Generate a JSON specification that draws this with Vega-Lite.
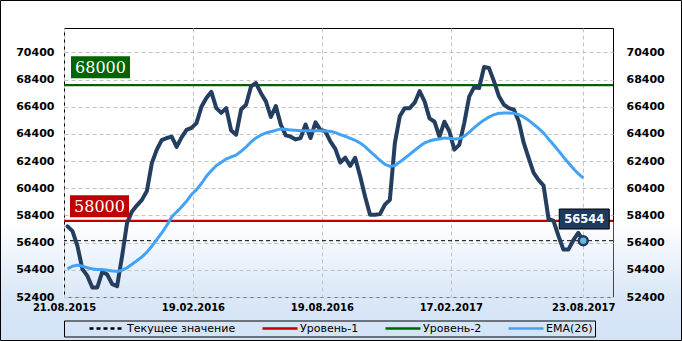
{
  "$schema": "https://vega.github.io/schema/vega-lite/v6.json",
  "width": 549,
  "height": 269,
  "autosize": "none",
  "padding": {"left": 64, "top": 28, "right": 69, "bottom": 44},
  "background": "white",
  "title": {
    "text": "Запасы нефти\u00a0 в хранилище\u00a0 Кушинг\u00a0 (США), 2 года (тыс. баррелей)",
    "anchor": "start",
    "frame": "group",
    "dx": -56,
    "offset": 9,
    "font": "DejaVu Sans Condensed, Liberation Sans Narrow, sans-serif",
    "fontSize": 13,
    "fontWeight": "bold",
    "color": "black"
  },
  "config": {
    "view": {
      "stroke": "black",
      "strokeWidth": 1,
      "fill": {
        "gradient": "linear", "x1": 0, "y1": 0, "x2": 0, "y2": 1,
        "stops": [
          {"offset": 0, "color": "#ffffff"},
          {"offset": 0.72, "color": "#ffffff"},
          {"offset": 1, "color": "#d9e7f7"}
        ]
      }
    },
    "axis": {
      "labelFont": "DejaVu Sans",
      "labelFontWeight": "bold",
      "labelColor": "black",
      "ticks": false,
      "tickSize": 0,
      "domain": false,
      "gridColor": "#c4c4c4",
      "gridDash": [4, 3],
      "gridWidth": 1,
      "labelFlush": false,
      "labelOverlap": false
    },
    "legend": {
      "orient": "none",
      "legendX": 0,
      "legendY": 292.5,
      "direction": "horizontal",
      "titleOrient": "left",
      "titlePadding": 22,
      "titleFontSize": 11,
      "strokeColor": "black",
      "padding": 2,
      "clipHeight": 12,
      "symbolType": "stroke",
      "symbolSize": 1225,
      "symbolStrokeWidth": 2.5,
      "labelFont": "DejaVu Sans",
      "labelFontSize": 11,
      "labelColor": "black",
      "columnPadding": 25,
      "labelOffset": 1
    }
  },
  "datasets": {
    "levels": [
      {"series": "Текущее значение", "value": 56544, "label": "56544", "date": "2017-08-23"},
      {"series": "Уровень-1", "value": 58000, "label": "58000"},
      {"series": "Уровень-2", "value": 68000, "label": "68000"}
    ],
    "stock": [
      {"date": "2015-08-26", "value": 57600},
      {"date": "2015-09-02", "value": 57250},
      {"date": "2015-09-09", "value": 56150},
      {"date": "2015-09-16", "value": 54450},
      {"date": "2015-09-23", "value": 53950},
      {"date": "2015-09-30", "value": 53100},
      {"date": "2015-10-07", "value": 53100},
      {"date": "2015-10-14", "value": 54250},
      {"date": "2015-10-21", "value": 54050},
      {"date": "2015-10-28", "value": 53350},
      {"date": "2015-11-04", "value": 53200},
      {"date": "2015-11-11", "value": 55400},
      {"date": "2015-11-18", "value": 57850},
      {"date": "2015-11-25", "value": 58700},
      {"date": "2015-12-02", "value": 59150},
      {"date": "2015-12-09", "value": 59550},
      {"date": "2015-12-16", "value": 60200},
      {"date": "2015-12-23", "value": 62250},
      {"date": "2015-12-30", "value": 63250},
      {"date": "2016-01-06", "value": 63950},
      {"date": "2016-01-13", "value": 64100},
      {"date": "2016-01-20", "value": 64200},
      {"date": "2016-01-27", "value": 63450},
      {"date": "2016-02-03", "value": 64150},
      {"date": "2016-02-10", "value": 64700},
      {"date": "2016-02-17", "value": 64850},
      {"date": "2016-02-24", "value": 65200},
      {"date": "2016-03-02", "value": 66400},
      {"date": "2016-03-09", "value": 67050},
      {"date": "2016-03-16", "value": 67500},
      {"date": "2016-03-23", "value": 66300},
      {"date": "2016-03-30", "value": 65950},
      {"date": "2016-04-06", "value": 66300},
      {"date": "2016-04-13", "value": 64650},
      {"date": "2016-04-20", "value": 64350},
      {"date": "2016-04-27", "value": 66200},
      {"date": "2016-05-04", "value": 66550},
      {"date": "2016-05-11", "value": 67900},
      {"date": "2016-05-18", "value": 68150},
      {"date": "2016-05-25", "value": 67400},
      {"date": "2016-06-01", "value": 66800},
      {"date": "2016-06-08", "value": 65650},
      {"date": "2016-06-15", "value": 66450},
      {"date": "2016-06-22", "value": 65100},
      {"date": "2016-06-29", "value": 64300},
      {"date": "2016-07-06", "value": 64200},
      {"date": "2016-07-13", "value": 64000},
      {"date": "2016-07-20", "value": 64100},
      {"date": "2016-07-27", "value": 65100},
      {"date": "2016-08-03", "value": 64100},
      {"date": "2016-08-10", "value": 65250},
      {"date": "2016-08-17", "value": 64700},
      {"date": "2016-08-24", "value": 64600},
      {"date": "2016-08-31", "value": 63850},
      {"date": "2016-09-07", "value": 63300},
      {"date": "2016-09-14", "value": 62300},
      {"date": "2016-09-21", "value": 62650},
      {"date": "2016-09-28", "value": 62050},
      {"date": "2016-10-05", "value": 62650},
      {"date": "2016-10-12", "value": 61300},
      {"date": "2016-10-19", "value": 59800},
      {"date": "2016-10-26", "value": 58450},
      {"date": "2016-11-02", "value": 58450},
      {"date": "2016-11-09", "value": 58500},
      {"date": "2016-11-16", "value": 59200},
      {"date": "2016-11-23", "value": 59550},
      {"date": "2016-11-30", "value": 63700},
      {"date": "2016-12-07", "value": 65700},
      {"date": "2016-12-14", "value": 66300},
      {"date": "2016-12-21", "value": 66300},
      {"date": "2016-12-28", "value": 66700},
      {"date": "2017-01-04", "value": 67550},
      {"date": "2017-01-11", "value": 66800},
      {"date": "2017-01-18", "value": 65550},
      {"date": "2017-01-25", "value": 65300},
      {"date": "2017-02-01", "value": 64200},
      {"date": "2017-02-08", "value": 65300},
      {"date": "2017-02-15", "value": 64600},
      {"date": "2017-02-22", "value": 63250},
      {"date": "2017-03-01", "value": 63600},
      {"date": "2017-03-08", "value": 65200},
      {"date": "2017-03-15", "value": 67150},
      {"date": "2017-03-22", "value": 67850},
      {"date": "2017-03-29", "value": 67780},
      {"date": "2017-04-05", "value": 69330},
      {"date": "2017-04-12", "value": 69250},
      {"date": "2017-04-19", "value": 68270},
      {"date": "2017-04-26", "value": 67170},
      {"date": "2017-05-03", "value": 66550},
      {"date": "2017-05-10", "value": 66300},
      {"date": "2017-05-17", "value": 66190},
      {"date": "2017-05-24", "value": 65330},
      {"date": "2017-05-31", "value": 63740},
      {"date": "2017-06-07", "value": 62630},
      {"date": "2017-06-14", "value": 61530},
      {"date": "2017-06-21", "value": 61000},
      {"date": "2017-06-28", "value": 60600},
      {"date": "2017-07-05", "value": 58150},
      {"date": "2017-07-12", "value": 58000},
      {"date": "2017-07-19", "value": 56900},
      {"date": "2017-07-26", "value": 55890},
      {"date": "2017-08-02", "value": 55890},
      {"date": "2017-08-09", "value": 56580},
      {"date": "2017-08-16", "value": 57120},
      {"date": "2017-08-23", "value": 56544}
    ],
    "ema": [
      {"date": "2015-08-26", "series": "EMA(26)", "value": 54470},
      {"date": "2015-09-02", "series": "EMA(26)", "value": 54670},
      {"date": "2015-09-09", "series": "EMA(26)", "value": 54740},
      {"date": "2015-09-16", "series": "EMA(26)", "value": 54670},
      {"date": "2015-09-23", "series": "EMA(26)", "value": 54550},
      {"date": "2015-09-30", "series": "EMA(26)", "value": 54470},
      {"date": "2015-10-07", "series": "EMA(26)", "value": 54420},
      {"date": "2015-10-14", "series": "EMA(26)", "value": 54420},
      {"date": "2015-10-21", "series": "EMA(26)", "value": 54370},
      {"date": "2015-10-28", "series": "EMA(26)", "value": 54320},
      {"date": "2015-11-04", "series": "EMA(26)", "value": 54280},
      {"date": "2015-11-11", "series": "EMA(26)", "value": 54370},
      {"date": "2015-11-18", "series": "EMA(26)", "value": 54550},
      {"date": "2015-11-25", "series": "EMA(26)", "value": 54810},
      {"date": "2015-12-02", "series": "EMA(26)", "value": 55080},
      {"date": "2015-12-09", "series": "EMA(26)", "value": 55350},
      {"date": "2015-12-16", "series": "EMA(26)", "value": 55700},
      {"date": "2015-12-23", "series": "EMA(26)", "value": 56140},
      {"date": "2015-12-30", "series": "EMA(26)", "value": 56630},
      {"date": "2016-01-06", "series": "EMA(26)", "value": 57120},
      {"date": "2016-01-13", "series": "EMA(26)", "value": 57660},
      {"date": "2016-01-20", "series": "EMA(26)", "value": 58290},
      {"date": "2016-01-27", "series": "EMA(26)", "value": 58660},
      {"date": "2016-02-03", "series": "EMA(26)", "value": 59030},
      {"date": "2016-02-10", "series": "EMA(26)", "value": 59450},
      {"date": "2016-02-17", "series": "EMA(26)", "value": 59940},
      {"date": "2016-02-24", "series": "EMA(26)", "value": 60300},
      {"date": "2016-03-02", "series": "EMA(26)", "value": 60750},
      {"date": "2016-03-09", "series": "EMA(26)", "value": 61280},
      {"date": "2016-03-16", "series": "EMA(26)", "value": 61700},
      {"date": "2016-03-23", "series": "EMA(26)", "value": 62070},
      {"date": "2016-03-30", "series": "EMA(26)", "value": 62310},
      {"date": "2016-04-06", "series": "EMA(26)", "value": 62560},
      {"date": "2016-04-13", "series": "EMA(26)", "value": 62710},
      {"date": "2016-04-20", "series": "EMA(26)", "value": 62850},
      {"date": "2016-04-27", "series": "EMA(26)", "value": 63120},
      {"date": "2016-05-04", "series": "EMA(26)", "value": 63440},
      {"date": "2016-05-11", "series": "EMA(26)", "value": 63810},
      {"date": "2016-05-18", "series": "EMA(26)", "value": 64100},
      {"date": "2016-05-25", "series": "EMA(26)", "value": 64320},
      {"date": "2016-06-01", "series": "EMA(26)", "value": 64470},
      {"date": "2016-06-08", "series": "EMA(26)", "value": 64570},
      {"date": "2016-06-15", "series": "EMA(26)", "value": 64670},
      {"date": "2016-06-22", "series": "EMA(26)", "value": 64770},
      {"date": "2016-06-29", "series": "EMA(26)", "value": 64740},
      {"date": "2016-07-06", "series": "EMA(26)", "value": 64690},
      {"date": "2016-07-13", "series": "EMA(26)", "value": 64670},
      {"date": "2016-07-20", "series": "EMA(26)", "value": 64640},
      {"date": "2016-07-27", "series": "EMA(26)", "value": 64640},
      {"date": "2016-08-03", "series": "EMA(26)", "value": 64640},
      {"date": "2016-08-10", "series": "EMA(26)", "value": 64640},
      {"date": "2016-08-17", "series": "EMA(26)", "value": 64640},
      {"date": "2016-08-24", "series": "EMA(26)", "value": 64620},
      {"date": "2016-08-31", "series": "EMA(26)", "value": 64590},
      {"date": "2016-09-07", "series": "EMA(26)", "value": 64500},
      {"date": "2016-09-14", "series": "EMA(26)", "value": 64350},
      {"date": "2016-09-21", "series": "EMA(26)", "value": 64230},
      {"date": "2016-09-28", "series": "EMA(26)", "value": 64080},
      {"date": "2016-10-05", "series": "EMA(26)", "value": 63930},
      {"date": "2016-10-12", "series": "EMA(26)", "value": 63740},
      {"date": "2016-10-19", "series": "EMA(26)", "value": 63470},
      {"date": "2016-10-26", "series": "EMA(26)", "value": 63120},
      {"date": "2016-11-02", "series": "EMA(26)", "value": 62800},
      {"date": "2016-11-09", "series": "EMA(26)", "value": 62460},
      {"date": "2016-11-16", "series": "EMA(26)", "value": 62170},
      {"date": "2016-11-23", "series": "EMA(26)", "value": 62020},
      {"date": "2016-11-30", "series": "EMA(26)", "value": 62070},
      {"date": "2016-12-07", "series": "EMA(26)", "value": 62340},
      {"date": "2016-12-14", "series": "EMA(26)", "value": 62610},
      {"date": "2016-12-21", "series": "EMA(26)", "value": 62900},
      {"date": "2016-12-28", "series": "EMA(26)", "value": 63200},
      {"date": "2017-01-04", "series": "EMA(26)", "value": 63490},
      {"date": "2017-01-11", "series": "EMA(26)", "value": 63740},
      {"date": "2017-01-18", "series": "EMA(26)", "value": 63880},
      {"date": "2017-01-25", "series": "EMA(26)", "value": 63980},
      {"date": "2017-02-01", "series": "EMA(26)", "value": 64030},
      {"date": "2017-02-08", "series": "EMA(26)", "value": 64100},
      {"date": "2017-02-15", "series": "EMA(26)", "value": 64080},
      {"date": "2017-02-22", "series": "EMA(26)", "value": 64030},
      {"date": "2017-03-01", "series": "EMA(26)", "value": 64050},
      {"date": "2017-03-08", "series": "EMA(26)", "value": 64230},
      {"date": "2017-03-15", "series": "EMA(26)", "value": 64520},
      {"date": "2017-03-22", "series": "EMA(26)", "value": 64860},
      {"date": "2017-03-29", "series": "EMA(26)", "value": 65160},
      {"date": "2017-04-05", "series": "EMA(26)", "value": 65430},
      {"date": "2017-04-12", "series": "EMA(26)", "value": 65650},
      {"date": "2017-04-19", "series": "EMA(26)", "value": 65820},
      {"date": "2017-04-26", "series": "EMA(26)", "value": 65920},
      {"date": "2017-05-03", "series": "EMA(26)", "value": 65940},
      {"date": "2017-05-10", "series": "EMA(26)", "value": 65940},
      {"date": "2017-05-17", "series": "EMA(26)", "value": 65920},
      {"date": "2017-05-24", "series": "EMA(26)", "value": 65820},
      {"date": "2017-05-31", "series": "EMA(26)", "value": 65650},
      {"date": "2017-06-07", "series": "EMA(26)", "value": 65400},
      {"date": "2017-06-14", "series": "EMA(26)", "value": 65110},
      {"date": "2017-06-21", "series": "EMA(26)", "value": 64810},
      {"date": "2017-06-28", "series": "EMA(26)", "value": 64470},
      {"date": "2017-07-05", "series": "EMA(26)", "value": 64030},
      {"date": "2017-07-12", "series": "EMA(26)", "value": 63610},
      {"date": "2017-07-19", "series": "EMA(26)", "value": 63170},
      {"date": "2017-07-26", "series": "EMA(26)", "value": 62710},
      {"date": "2017-08-02", "series": "EMA(26)", "value": 62270},
      {"date": "2017-08-09", "series": "EMA(26)", "value": 61850},
      {"date": "2017-08-16", "series": "EMA(26)", "value": 61480},
      {"date": "2017-08-23", "series": "EMA(26)", "value": 61160}
    ]
  },
  "layer": [
    {
      "data": {"name": "levels"},
      "transform": [{"filter": {"field": "series", "equal": "Уровень-1"}}],
      "mark": {"type": "rect", "fill": {"gradient": "linear", "x1": 0, "y1": 0, "x2": 0, "y2": 1,
        "stops": [{"offset": 0, "color": "#ffffff"}, {"offset": 0.62, "color": "#d9e7f7"}, {"offset": 1, "color": "#d3e3f6"}]}},
      "encoding": {
        "x": {"datum": {"year": 2015, "month": 5, "date": 1, "utc": true}, "type": "temporal", "axis": null},
        "x2": {"datum": {"year": 2015, "month": 8, "date": 20, "utc": true}},
        "y": {"datum": 57950, "type": "quantitative", "axis": null},
        "y2": {"datum": 49000}
      }
    },
    {
      "data": {"name": "levels"},
      "transform": [{"filter": {"field": "series", "equal": "Уровень-1"}}],
      "mark": {"type": "rect", "fill": {"gradient": "linear", "x1": 0, "y1": 0, "x2": 0, "y2": 1,
        "stops": [{"offset": 0, "color": "#ffffff"}, {"offset": 0.62, "color": "#d9e7f7"}, {"offset": 1, "color": "#d3e3f6"}]}},
      "encoding": {
        "x": {"datum": {"year": 2017, "month": 10, "date": 5, "utc": true}, "type": "temporal", "axis": null},
        "x2": {"datum": {"year": 2018, "month": 2, "date": 1, "utc": true}},
        "y": {"datum": 57950, "type": "quantitative", "axis": null},
        "y2": {"datum": 49000}
      }
    },
    {
      "data": {"name": "levels"},
      "transform": [{"filter": {"field": "series", "equal": "Уровень-1"}}],
      "mark": {"type": "rect", "fill": {"gradient": "linear", "x1": 0, "y1": 0, "x2": 0, "y2": 1,
        "stops": [{"offset": 0, "color": "#d9e7f7"}, {"offset": 1, "color": "#d3e3f6"}]}},
      "encoding": {
        "x": {"datum": {"year": 2015, "month": 5, "date": 1, "utc": true}, "type": "temporal", "axis": null},
        "x2": {"datum": {"year": 2018, "month": 2, "date": 1, "utc": true}},
        "y": {"datum": 52360, "type": "quantitative", "axis": null},
        "y2": {"datum": 49000}
      }
    },
    {
      "data": {"name": "levels"},
      "transform": [{"filter": {"field": "series", "oneOf": ["Уровень-1", "Уровень-2"]}}],
      "mark": {"type": "rule", "strokeWidth": 2.2},
      "encoding": {
        "y": {"field": "value", "type": "quantitative", "title": null,
          "axis": {"orient": "left", "values": [52400, 54400, 56400, 58400, 60400, 62400, 64400, 66400, 68400, 70400], "format": "d", "grid": false, "labelFontSize": 11, "labelPadding": 10, "zindex": 1}},
        "color": {"field": "series", "type": "nominal", "title": " ",
          "scale": {"domain": ["Текущее значение", "Уровень-1", "Уровень-2", "EMA(26)"], "range": ["#000000", "#c00000", "#006400", "#42a3f5"]}},
        "strokeDash": {"field": "series", "type": "nominal", "title": " ",
          "scale": {"domain": ["Текущее значение", "Уровень-1", "Уровень-2", "EMA(26)"], "range": [[4, 3], [1, 0], [1, 0], [1, 0]]}}
      }
    },
    {
      "data": {"name": "levels"},
      "transform": [{"filter": {"field": "series", "equal": "Текущее значение"}}],
      "mark": {"type": "rule", "strokeWidth": 1},
      "encoding": {
        "y": {"field": "value", "type": "quantitative", "axis": null},
        "color": {"field": "series", "type": "nominal", "title": " "},
        "strokeDash": {"field": "series", "type": "nominal", "title": " "}
      }
    },
    {
      "data": {"name": "stock"},
      "mark": {"type": "line", "strokeWidth": 4, "color": "#233e5f", "strokeJoin": "round", "strokeCap": "round"},
      "encoding": {
        "x": {"field": "date", "type": "temporal", "title": null,
          "scale": {"type": "utc", "domain": [{"year": 2015, "month": 8, "date": 21, "utc": true}, {"year": 2017, "month": 10, "date": 4, "utc": true}]},
          "axis": {
            "orient": "bottom",
            "values": [
              {"year": 2015, "month": 8, "date": 21, "utc": true},
              {"year": 2016, "month": 2, "date": 19, "utc": true},
              {"year": 2016, "month": 8, "date": 19, "utc": true},
              {"year": 2017, "month": 2, "date": 17, "utc": true},
              {"year": 2017, "month": 8, "date": 23, "utc": true}
            ],
            "grid": true,
            "labels": false,
            "minExtent": 0,
            "maxExtent": 0,
            "zindex": 0
          }
        },
        "y": {"field": "value", "type": "quantitative", "title": null,
          "scale": {"domain": [52400, 72200], "nice": false, "zero": false},
          "axis": {"orient": "left", "values": [52400, 54400, 56400, 58400, 60400, 62400, 64400, 66400, 68400, 70400], "grid": true, "labels": false, "minExtent": 0, "maxExtent": 0, "zindex": 0}
        }
      }
    },
    {
      "data": {"name": "ema"},
      "mark": {"type": "line", "strokeWidth": 3, "strokeJoin": "round"},
      "encoding": {
        "x": {"field": "date", "type": "temporal", "title": null,
          "axis": {
            "orient": "bottom",
            "values": [
              {"year": 2015, "month": 8, "date": 21, "utc": true},
              {"year": 2016, "month": 2, "date": 19, "utc": true},
              {"year": 2016, "month": 8, "date": 19, "utc": true},
              {"year": 2017, "month": 2, "date": 17, "utc": true},
              {"year": 2017, "month": 8, "date": 23, "utc": true}
            ],
            "format": "%d.%m.%Y",
            "grid": false,
            "labelFontSize": 10,
            "labelPadding": 5,
            "zindex": 1
          }
        },
        "y": {"field": "value", "type": "quantitative", "title": null,
          "axis": {"orient": "right", "values": [52400, 54400, 56400, 58400, 60400, 62400, 64400, 66400, 68400, 70400], "format": "d", "grid": false, "labelFontSize": 11, "labelPadding": 13, "zindex": 1}
        },
        "color": {"field": "series", "type": "nominal", "title": " "},
        "strokeDash": {"field": "series", "type": "nominal", "title": " "}
      }
    },
    {
      "data": {"name": "levels"},
      "transform": [{"filter": {"field": "series", "equal": "Уровень-2"}}],
      "mark": {"type": "point", "shape": "M-1,-0.373H1V0.373H-1Z", "size": 3481, "filled": true, "fill": "#006400", "opacity": 1, "strokeWidth": 0, "xOffset": 36.5, "yOffset": -17.7},
      "encoding": {
        "x": {"datum": {"year": 2015, "month": 8, "date": 21, "utc": true}, "type": "temporal", "axis": null},
        "y": {"field": "value", "type": "quantitative", "axis": null}
      }
    },
    {
      "data": {"name": "levels"},
      "transform": [{"filter": {"field": "series", "equal": "Уровень-2"}}],
      "mark": {"type": "text", "font": "DejaVu Serif", "fontSize": 16, "color": "white", "align": "center", "baseline": "middle", "dx": 36.5, "dy": -17.2},
      "encoding": {
        "x": {"datum": {"year": 2015, "month": 8, "date": 21, "utc": true}, "type": "temporal", "axis": null},
        "y": {"field": "value", "type": "quantitative", "axis": null},
        "text": {"field": "label"}
      }
    },
    {
      "data": {"name": "levels"},
      "transform": [{"filter": {"field": "series", "equal": "Уровень-1"}}],
      "mark": {"type": "point", "shape": "M-1,-0.373H1V0.373H-1Z", "size": 3481, "filled": true, "fill": "#c00000", "opacity": 1, "strokeWidth": 0, "xOffset": 35.5, "yOffset": -14.7},
      "encoding": {
        "x": {"datum": {"year": 2015, "month": 8, "date": 21, "utc": true}, "type": "temporal", "axis": null},
        "y": {"field": "value", "type": "quantitative", "axis": null}
      }
    },
    {
      "data": {"name": "levels"},
      "transform": [{"filter": {"field": "series", "equal": "Уровень-1"}}],
      "mark": {"type": "text", "font": "DejaVu Serif", "fontSize": 16, "color": "white", "align": "center", "baseline": "middle", "dx": 35.5, "dy": -14.2},
      "encoding": {
        "x": {"datum": {"year": 2015, "month": 8, "date": 21, "utc": true}, "type": "temporal", "axis": null},
        "y": {"field": "value", "type": "quantitative", "axis": null},
        "text": {"field": "label"}
      }
    },
    {
      "data": {"name": "levels"},
      "transform": [{"filter": {"field": "series", "equal": "Текущее значение"}}],
      "mark": {"type": "point", "shape": "M-1,-0.4H1V0.4H-1Z", "size": 2500, "filled": true, "fill": "#1f3a5f", "stroke": "#000000", "strokeWidth": 1, "opacity": 1, "xOffset": 1, "yOffset": -21.7},
      "encoding": {
        "x": {"field": "date", "type": "temporal", "axis": null},
        "y": {"field": "value", "type": "quantitative", "axis": null}
      }
    },
    {
      "data": {"name": "levels"},
      "transform": [{"filter": {"field": "series", "equal": "Текущее значение"}}],
      "mark": {"type": "text", "font": "DejaVu Sans", "fontWeight": "bold", "fontSize": 11.5, "color": "white", "align": "center", "baseline": "middle", "dx": 1, "dy": -21.2},
      "encoding": {
        "x": {"field": "date", "type": "temporal", "axis": null},
        "y": {"field": "value", "type": "quantitative", "axis": null},
        "text": {"field": "label"}
      }
    },
    {
      "data": {"name": "levels"},
      "transform": [{"filter": {"field": "series", "equal": "Текущее значение"}}],
      "mark": {"type": "point", "shape": "circle", "size": 80, "filled": true, "fill": "#6ab7d6", "stroke": "#1f3a5f", "strokeWidth": 2.5, "opacity": 1},
      "encoding": {
        "x": {"field": "date", "type": "temporal", "axis": null},
        "y": {"field": "value", "type": "quantitative", "axis": null}
      }
    },
    {
      "data": {"name": "levels"},
      "transform": [{"filter": {"field": "series", "equal": "Уровень-1"}}],
      "mark": {"type": "rect", "fill": "transparent", "stroke": "#000000", "strokeWidth": 1},
      "encoding": {
        "x": {"datum": {"year": 2015, "month": 5, "date": 23, "hours": 8, "minutes": 38, "utc": true}, "type": "temporal", "axis": null},
        "x2": {"datum": {"year": 2018, "month": 1, "date": 8, "hours": 16, "minutes": 48, "utc": true}},
        "y": {"datum": 74224, "type": "quantitative", "axis": null},
        "y2": {"datum": 49198}
      }
    }
  ],
  "resolve": {"axis": {"x": "independent", "y": "independent"}}
}
